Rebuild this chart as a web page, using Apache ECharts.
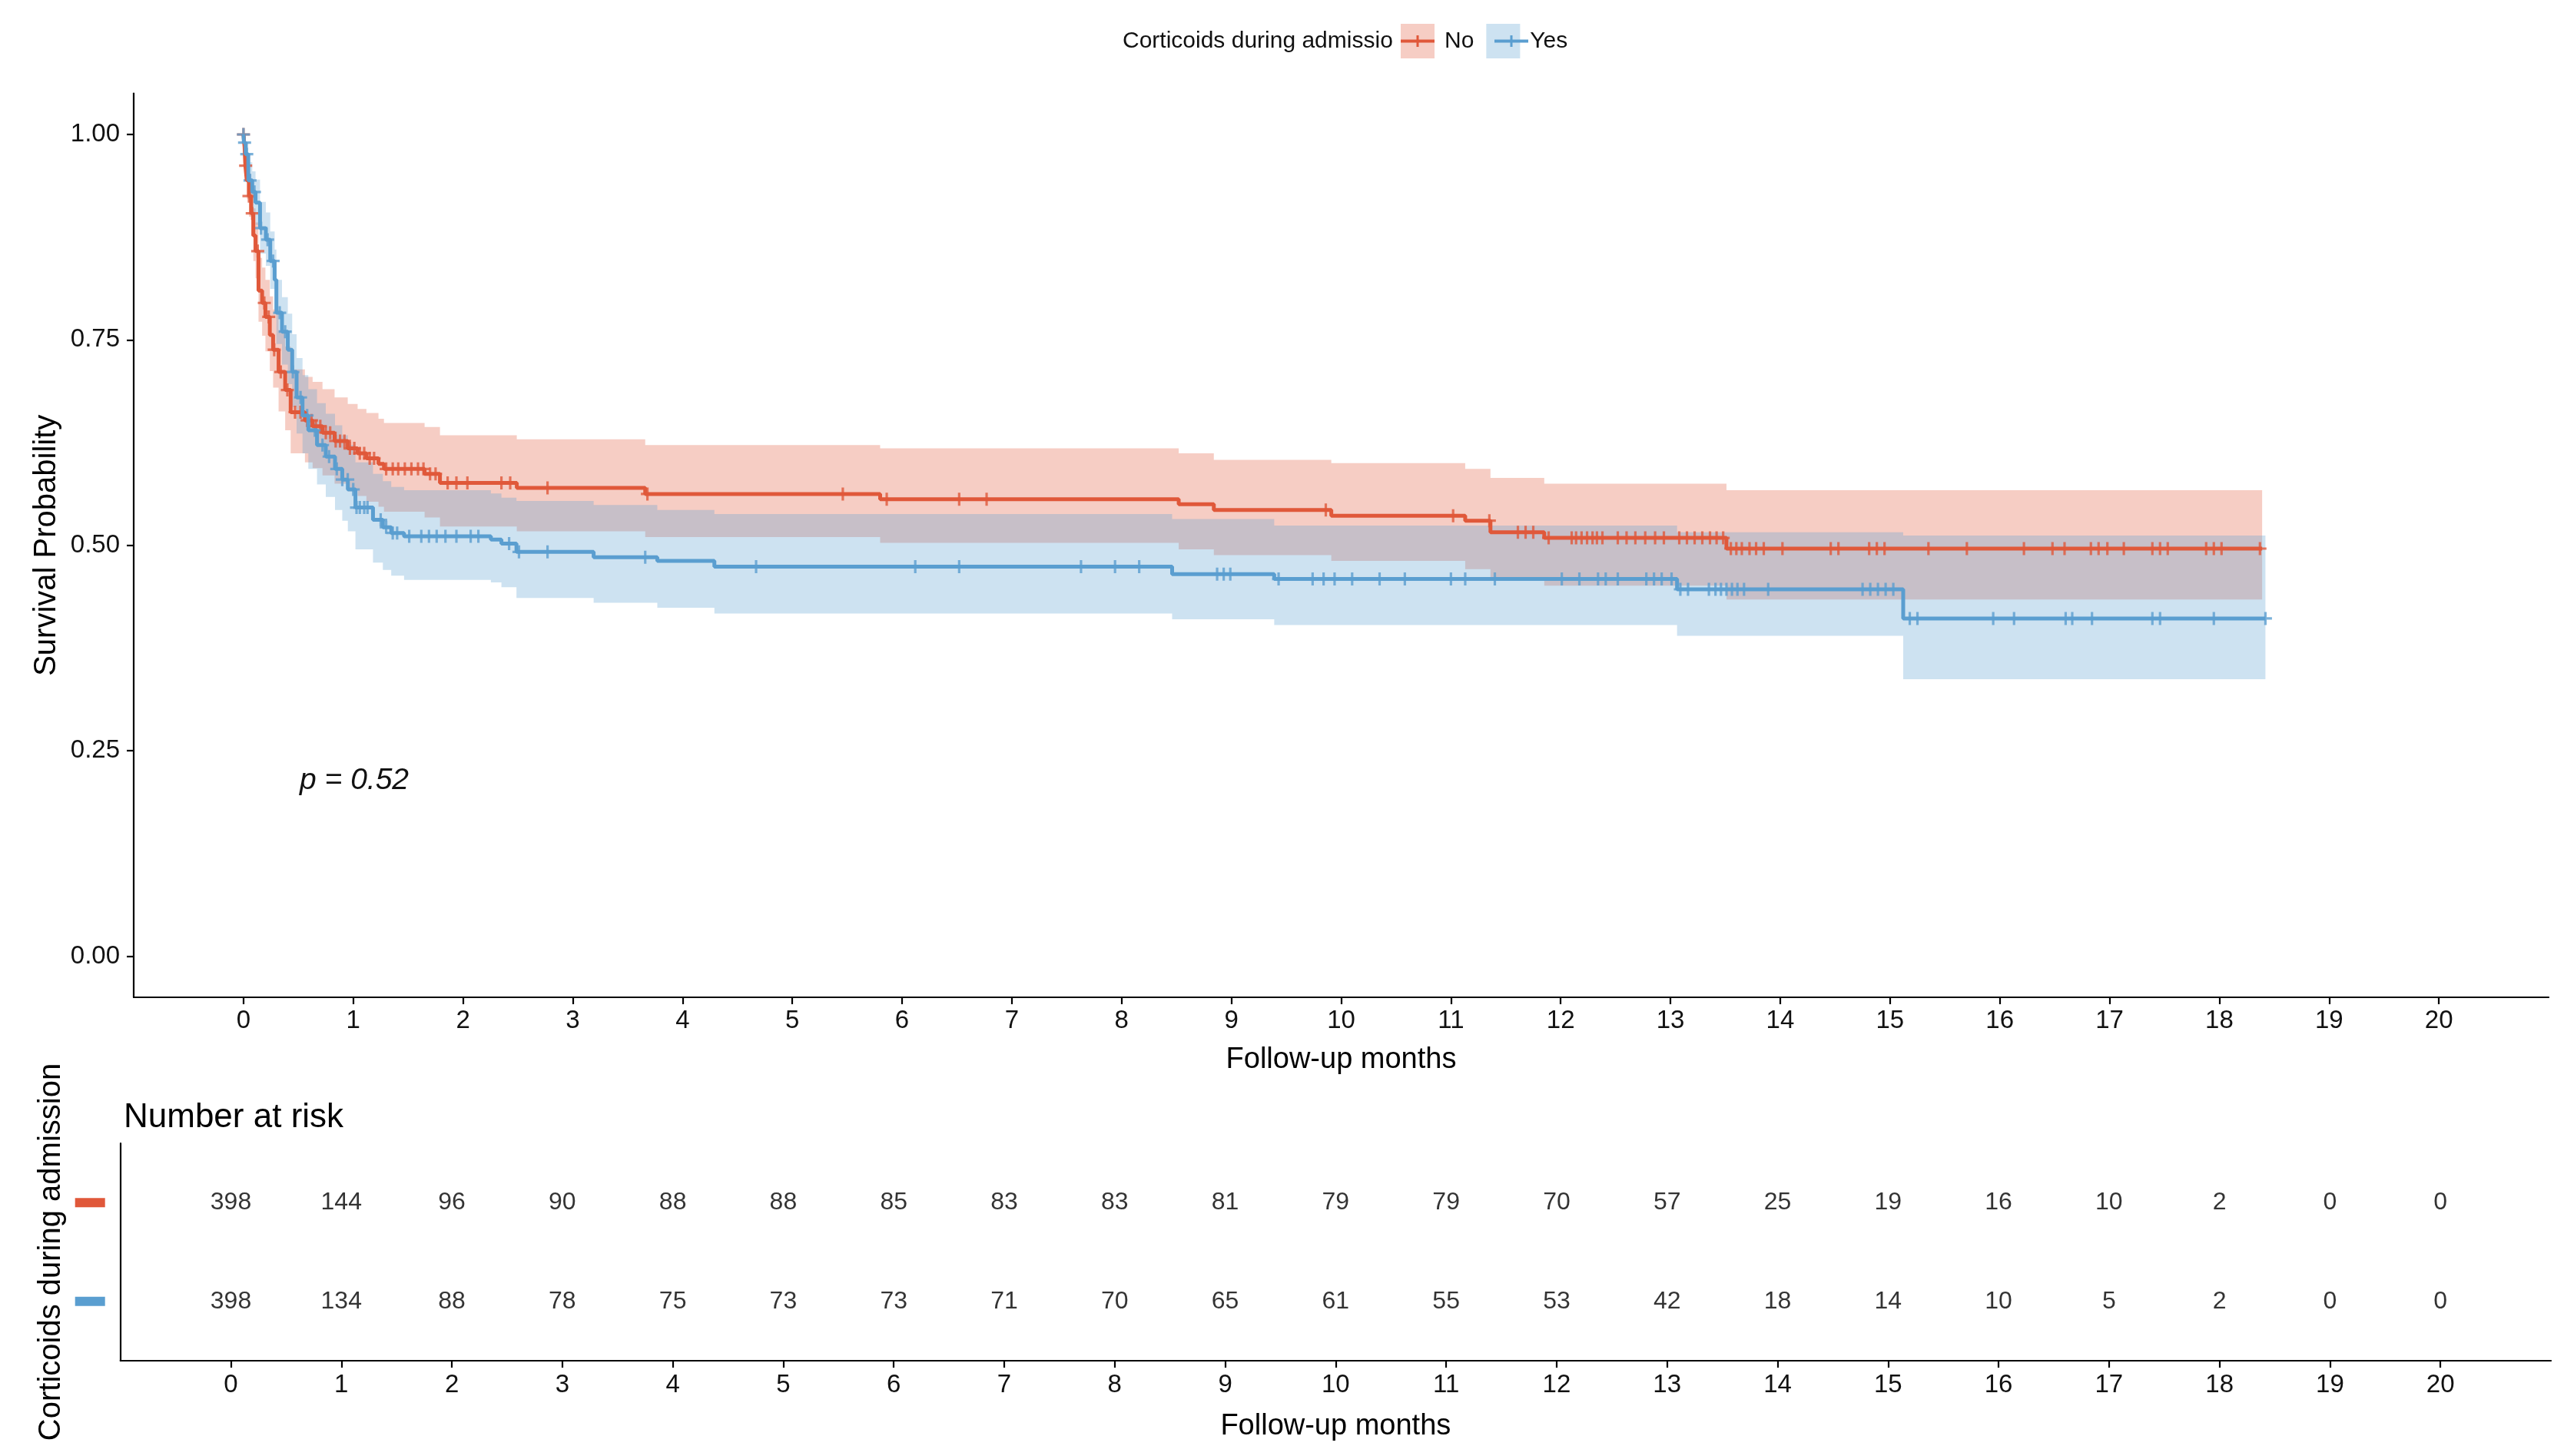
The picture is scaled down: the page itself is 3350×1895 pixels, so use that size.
<!DOCTYPE html>
<html>
<head>
<meta charset="utf-8">
<script src="https://cdn.jsdelivr.net/npm/echarts@6.0.0/dist/echarts.min.js"></script>
<style>
  html, body { margin: 0; padding: 0; background: #fff; }
  #chart { width: 3350px; height: 1895px; }
</style>
</head>
<body>
<div id="chart"></div>
<script>
// Kaplan-Meier estimates (value held from each time onward)
const noTime  = [0, 0.01, 0.017, 0.03, 0.05, 0.07, 0.09, 0.11, 0.137, 0.17, 0.2, 0.24, 0.27, 0.32, 0.38, 0.43, 0.56, 0.63, 0.72, 0.83, 0.95, 1.04, 1.12, 1.23, 1.28, 1.65, 1.79, 2.49, 3.66, 5.8, 8.52, 8.84, 9.91, 11.13, 11.36, 11.85, 13.51, 18.39];
const noSurv  = [1, 0.985, 0.962, 0.944, 0.925, 0.904, 0.877, 0.858, 0.81, 0.795, 0.778, 0.756, 0.738, 0.711, 0.689, 0.662, 0.652, 0.645, 0.637, 0.627, 0.618, 0.612, 0.606, 0.599, 0.593, 0.587, 0.576, 0.57, 0.5625, 0.556, 0.55, 0.543, 0.536, 0.53, 0.516, 0.509, 0.496, 0.496];
const noLower = [1, 0.97, 0.943, 0.922, 0.9, 0.876, 0.846, 0.825, 0.772, 0.755, 0.736, 0.712, 0.692, 0.663, 0.64, 0.612, 0.601, 0.594, 0.585, 0.575, 0.566, 0.56, 0.553, 0.547, 0.541, 0.534, 0.523, 0.517, 0.51, 0.503, 0.495, 0.488, 0.481, 0.471, 0.457, 0.451, 0.434, 0.434];
const noUpper = [1, 0.997, 0.98, 0.966, 0.952, 0.934, 0.91, 0.893, 0.85, 0.838, 0.823, 0.803, 0.787, 0.762, 0.742, 0.714, 0.705, 0.699, 0.69, 0.68, 0.672, 0.666, 0.661, 0.654, 0.649, 0.644, 0.634, 0.629, 0.622, 0.618, 0.612, 0.604, 0.6, 0.593, 0.582, 0.575, 0.567, 0.567];

const yesTime  = [0, 0.004, 0.02, 0.044, 0.08, 0.11, 0.151, 0.204, 0.244, 0.284, 0.3, 0.351, 0.404, 0.444, 0.484, 0.538, 0.591, 0.67, 0.75, 0.834, 0.9, 0.951, 1.02, 1.18, 1.27, 1.346, 1.463, 2.254, 2.35, 2.487, 3.19, 3.77, 4.29, 8.46, 9.39, 13.06, 15.12, 18.42];
const yesSurv  = [1, 0.99, 0.976, 0.944, 0.93, 0.917, 0.886, 0.872, 0.846, 0.823, 0.783, 0.76, 0.738, 0.711, 0.68, 0.658, 0.64, 0.622, 0.608, 0.593, 0.58, 0.568, 0.546, 0.531, 0.522, 0.515, 0.511, 0.507, 0.502, 0.492, 0.4855, 0.481, 0.474, 0.465, 0.459, 0.4465, 0.411, 0.411];
const yesLower = [1, 0.98, 0.96, 0.922, 0.905, 0.89, 0.855, 0.84, 0.812, 0.787, 0.745, 0.72, 0.696, 0.668, 0.636, 0.612, 0.593, 0.574, 0.559, 0.543, 0.53, 0.517, 0.495, 0.479, 0.47, 0.463, 0.458, 0.455, 0.449, 0.436, 0.43, 0.424, 0.417, 0.41, 0.403, 0.39, 0.337, 0.337];
const yesUpper = [1, 1, 0.99, 0.966, 0.955, 0.945, 0.918, 0.905, 0.882, 0.86, 0.823, 0.802, 0.782, 0.757, 0.728, 0.707, 0.69, 0.673, 0.66, 0.646, 0.634, 0.622, 0.601, 0.587, 0.578, 0.571, 0.567, 0.563, 0.558, 0.554, 0.549, 0.543, 0.538, 0.532, 0.524, 0.516, 0.512, 0.512];

// censoring times (months)
const noCensor = [0, 0.02, 0.05, 0.08, 0.13, 0.19, 0.23, 0.28, 0.34, 0.4, 0.47, 0.52, 0.58, 0.62, 0.66, 0.7, 0.75, 0.79, 0.84, 0.88, 0.92, 0.97, 1.01, 1.06, 1.1, 1.15, 1.19, 1.3, 1.36, 1.41, 1.47, 1.53, 1.59, 1.64, 1.7, 1.75, 1.86, 1.94, 2.04, 2.35, 2.43, 2.77, 3.68, 5.46, 5.86, 6.52, 6.77, 9.86, 11.02, 11.35, 11.61, 11.68, 11.75, 11.89, 12.1, 12.14, 12.19, 12.24, 12.29, 12.33, 12.38, 12.52, 12.6, 12.68, 12.77, 12.86, 12.94, 13.08, 13.15, 13.22, 13.29, 13.36, 13.42, 13.48, 13.55, 13.6, 13.65, 13.72, 13.78, 13.85, 14.02, 14.46, 14.53, 14.81, 14.88, 14.95, 15.35, 15.7, 16.22, 16.48, 16.59, 16.83, 16.9, 16.98, 17.13, 17.39, 17.46, 17.53, 17.88, 17.95, 18.02, 18.37];
const yesCensor = [0, 0.01, 0.03, 0.06, 0.1, 0.16, 0.22, 0.27, 0.33, 0.38, 0.45, 0.52, 0.58, 0.65, 0.72, 0.78, 0.85, 0.9, 0.95, 1.0, 1.03, 1.06, 1.1, 1.13, 1.25, 1.3, 1.36, 1.4, 1.51, 1.62, 1.69, 1.76, 1.84, 1.94, 2.07, 2.14, 2.42, 2.51, 2.77, 3.66, 4.67, 6.12, 6.52, 7.63, 7.94, 8.16, 8.87, 8.93, 8.99, 9.43, 9.74, 9.84, 9.94, 10.1, 10.35, 10.58, 11.0, 11.13, 11.4, 12.01, 12.17, 12.34, 12.41, 12.52, 12.78, 12.85, 12.92, 13.01, 13.09, 13.16, 13.35, 13.41, 13.46, 13.51, 13.56, 13.61, 13.67, 13.89, 14.75, 14.82, 14.89, 14.96, 15.03, 15.18, 15.25, 15.94, 16.13, 16.6, 16.66, 16.84, 17.39, 17.46, 17.95, 18.42];

// number at risk
const riskMonths = [0, 1, 2, 3, 4, 5, 6, 7, 8, 9, 10, 11, 12, 13, 14, 15, 16, 17, 18, 19, 20];
const noRisk  = [398, 144, 96, 90, 88, 88, 85, 83, 83, 81, 79, 79, 70, 57, 25, 19, 16, 10, 2, 0, 0];
const yesRisk = [398, 134, 88, 78, 75, 73, 73, 71, 70, 65, 61, 55, 53, 42, 18, 14, 10, 5, 2, 0, 0];

const monthTicks = [0, 1, 2, 3, 4, 5, 6, 7, 8, 9, 10, 11, 12, 13, 14, 15, 16, 17, 18, 19, 20];
const survTicks = [0, 0.25, 0.5, 0.75, 1];

const RED = '#E0583A';
const BLUE = '#5A9ED0';
const RED_FILL = 'rgba(224,88,58,0.3)';
const BLUE_FILL = 'rgba(90,158,208,0.3)';
const FONT = 'Liberation Sans, Arial, sans-serif';
const PLUS = 'path://M6.5,0h3v6.5h6.5v3h-6.5v6.5h-3v-6.5h-6.5v-3h6.5z';
const KEY = 'path://M0,0h0.01v0.01h-0.01z M43.99,44.99h0.01v0.01h-0.01z M0,20.5h44v4h-44z M20.5,15h3v15h-3z';

const pairs = (t, v) => t.map((x, i) => [x, v[i]]);
const survAt = (t, s, c) => {
  let y = s[0];
  for (let i = 0; i < t.length; i++) if (t[i] <= c) y = s[i];
  return y;
};

const lineSeries = (name, t, s, color) => ({
  name, type: 'line', step: 'end', data: pairs(t, s),
  symbol: 'none', lineStyle: { color, width: 5 }, itemStyle: { color },
  xAxisIndex: 0, yAxisIndex: 0, silent: true
});
const censorSeries = (name, t, s, cens, color) => ({
  name, type: 'scatter', data: cens.map(c => [c, survAt(t, s, c)]),
  symbol: PLUS, symbolSize: 17, itemStyle: { color },
  xAxisIndex: 0, yAxisIndex: 0, silent: true
});
// step-shaped confidence ribbon, one polygon built through the axis scales
const bandSeries = (name, t, lo, hi, fill) => ({
  name, type: 'custom', xAxisIndex: 0, yAxisIndex: 0, silent: true, clip: true,
  data: t.map((x, i) => [x, lo[i], hi[i]]),
  renderItem: (params, api) => {
    if (params.dataIndex !== 0) return null;
    const top = [], bottom = [];
    for (let i = 0; i < t.length - 1; i++) {
      top.push(api.coord([t[i], hi[i]]), api.coord([t[i + 1], hi[i]]));
      bottom.push(api.coord([t[i], lo[i]]), api.coord([t[i + 1], lo[i]]));
    }
    return {
      type: 'polygon',
      shape: { points: top.concat(bottom.reverse()) },
      style: { fill, stroke: null }
    };
  }
});
const riskSeries = (name, row, counts) => ({
  name: name + ' risk', type: 'scatter', xAxisIndex: 1, yAxisIndex: 1,
  data: riskMonths.map((m, i) => [m, row, counts[i]]),
  symbolSize: 1, itemStyle: { color: 'rgba(0,0,0,0)' },
  label: { show: true, position: 'inside', formatter: p => p.value[2], fontSize: 32, color: '#000', fontFamily: FONT },
  silent: true
});

const axisBase = {
  axisLine: { show: true, onZero: false, lineStyle: { color: '#000', width: 2.2 } },
  splitLine: { show: false }
};

const chart = echarts.init(document.getElementById('chart'), null, { renderer: 'canvas' });
chart.setOption({
  animation: false,
  backgroundColor: '#fff',
  textStyle: { fontFamily: FONT },
  title: [
    { text: 'Corticoids during admissio', left: 1456, top: 34, textStyle: { fontSize: 30, fontWeight: 'normal', color: '#111', fontFamily: FONT } },
    { text: 'p = 0.52', left: 385, top: 992, textStyle: { fontSize: 39, fontStyle: 'italic', fontWeight: 'normal', color: '#111', fontFamily: FONT } },
    { text: 'Number at risk', left: 156, top: 1428, textStyle: { fontSize: 44, fontWeight: 'normal', color: '#000', fontFamily: FONT } }
  ],
  legend: [
    {
      left: 1818, top: 26, orient: 'horizontal', itemWidth: 44, itemHeight: 45, itemGap: 16,
      data: [
        { name: 'No', icon: 'rect', itemStyle: { color: RED_FILL } },
        { name: 'Yes', icon: 'rect', itemStyle: { color: BLUE_FILL } }
      ],
      textStyle: { fontSize: 30, color: '#111', fontFamily: FONT, padding: [0, 0, 0, 8] },
      selectedMode: false
    },
    {
      left: 1818, top: 26, orient: 'horizontal', itemWidth: 44, itemHeight: 45, itemGap: 78,
      data: [
        { name: 'No', icon: KEY, itemStyle: { color: RED } },
        { name: 'Yes', icon: KEY, itemStyle: { color: BLUE } }
      ],
      formatter: () => '',
      textStyle: { fontSize: 30 },
      selectedMode: false
    }
  ],
  grid: [
    { left: 174, right: 33, top: 121.5, bottom: 597 },
    { left: 156.7, right: 30, top: 1488, bottom: 124 }
  ],
  xAxis: [
    Object.assign({}, axisBase, {
      type: 'value', gridIndex: 0, min: -1, max: 21,
      axisTick: { show: true, length: 9, customValues: monthTicks, lineStyle: { color: '#000', width: 2.2 } },
      axisLabel: { customValues: monthTicks, fontSize: 33, color: '#111', margin: 14 },
      name: 'Follow-up months', nameLocation: 'middle', nameGap: 63,
      nameTextStyle: { fontSize: 38, color: '#000' }
    }),
    Object.assign({}, axisBase, {
      type: 'value', gridIndex: 1, min: -1, max: 21,
      axisTick: { show: true, length: 9, customValues: monthTicks, lineStyle: { color: '#000', width: 2.2 } },
      axisLabel: { customValues: monthTicks, fontSize: 33, color: '#111', margin: 15 },
      name: 'Follow-up months', nameLocation: 'middle', nameGap: 67,
      nameTextStyle: { fontSize: 38, color: '#000' }
    })
  ],
  yAxis: [
    Object.assign({}, axisBase, {
      type: 'value', gridIndex: 0, min: -0.05, max: 1.05,
      axisTick: { show: true, length: 9, customValues: survTicks, lineStyle: { color: '#000', width: 2.2 } },
      axisLabel: { customValues: survTicks, fontSize: 33, color: '#111', margin: 18, formatter: v => v.toFixed(2) },
      name: 'Survival Probability', nameLocation: 'middle', nameGap: 86,
      nameTextStyle: { fontSize: 40, color: '#000' }
    }),
    Object.assign({}, axisBase, {
      type: 'value', gridIndex: 1, min: 0.4, max: 2.6,
      axisTick: { show: false },
      axisLabel: {
        customValues: [1, 2], margin: 20,
        formatter: v => (Math.abs(v - 2) < 1e-6 ? '{r| }' : '{b| }'),
        rich: {
          r: { backgroundColor: RED, width: 39, height: 12, fontSize: 10 },
          b: { backgroundColor: BLUE, width: 39, height: 12, fontSize: 10 }
        }
      },
      name: 'Corticoids during admission', nameLocation: 'middle', nameGap: 69,
      nameTextStyle: { fontSize: 40, color: '#000' }
    })
  ],
  series: [
    lineSeries('No', noTime, noSurv, RED),
    lineSeries('Yes', yesTime, yesSurv, BLUE),
    censorSeries('No', noTime, noSurv, noCensor, RED),
    censorSeries('Yes', yesTime, yesSurv, yesCensor, BLUE),
    bandSeries('No band', noTime, noLower, noUpper, RED_FILL),
    bandSeries('Yes band', yesTime, yesLower, yesUpper, BLUE_FILL),
    riskSeries('No', 2, noRisk),
    riskSeries('Yes', 1, yesRisk)
  ]
});
</script>
</body>
</html>
